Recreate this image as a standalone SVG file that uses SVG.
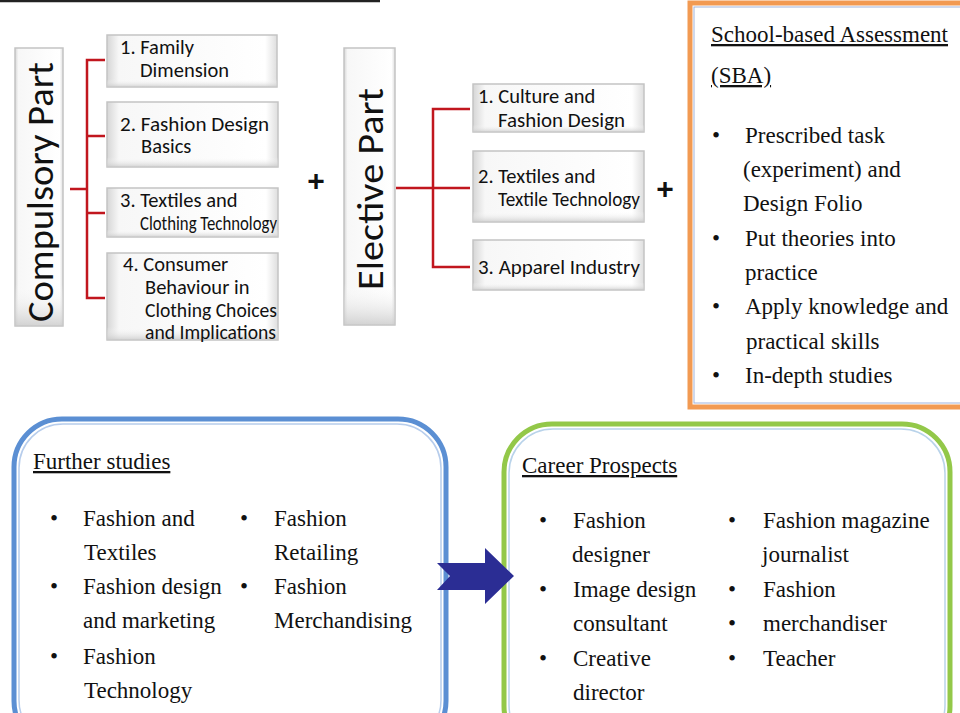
<svg xmlns="http://www.w3.org/2000/svg" width="960" height="713" viewBox="0 0 960 713">
<defs>
<linearGradient id="boxg" x1="0" y1="0" x2="1" y2="0">
<stop offset="0" stop-color="#d6d6d6"/>
<stop offset="0.07" stop-color="#f7f7f7"/>
<stop offset="0.93" stop-color="#ffffff"/>
<stop offset="1" stop-color="#dedede"/>
</linearGradient>
<linearGradient id="boxv" x1="0" y1="0" x2="0" y2="1">
<stop offset="0" stop-color="#ffffff" stop-opacity="0"/>
<stop offset="0.85" stop-color="#ffffff" stop-opacity="0"/>
<stop offset="1" stop-color="#c8c8c8" stop-opacity="0.8"/>
</linearGradient>
</defs>
<style>
.box{fill:url(#boxg);stroke:#c4c4c4;stroke-width:1.5}
.shade{fill:url(#boxv);stroke:none}
.cal{font-family:Carlito,"Liberation Sans",Arial,sans-serif;fill:#111}
.item{font-size:20.5px}
.big{font-size:36px}
.tnr{font-family:"Liberation Serif","Times New Roman",serif;fill:#111;font-size:23px}
.head{text-decoration:underline}
.red{stroke:#c1161e;stroke-width:2.5;fill:none}
.plus{font-family:"Liberation Sans",Arial,sans-serif;font-size:30px;font-weight:bold;fill:#111}
</style>
<rect width="960" height="713" fill="#ffffff"/>
<line x1="0" y1="1" x2="380" y2="1" stroke="#222" stroke-width="2.5"/>

<g id="compulsory-part">
<rect class="box" x="15" y="48" width="48" height="278"/>
<rect class="shade" x="15" y="48" width="48" height="278"/>
<text class="cal big" transform="translate(53,322) rotate(-90)" textLength="260" lengthAdjust="spacingAndGlyphs">Compulsory Part</text>
</g>
<g id="c1">
<rect class="box" x="107" y="35" width="170" height="52"/>
<rect class="shade" x="107" y="35" width="170" height="52"/>
<text class="cal item" x="120" y="54">1. Family</text>
<text class="cal item" x="140" y="77">Dimension</text>
</g>
<g id="c2">
<rect class="box" x="107" y="102" width="171" height="65"/>
<rect class="shade" x="107" y="102" width="171" height="65"/>
<text class="cal item" x="120" y="131" textLength="149" lengthAdjust="spacingAndGlyphs">2. Fashion Design</text>
<text class="cal item" x="141" y="153">Basics</text>
</g>
<g id="c3">
<rect class="box" x="107" y="188" width="171" height="49"/>
<rect class="shade" x="107" y="188" width="171" height="49"/>
<text class="cal item" x="120" y="207">3. Textiles and</text>
<text class="cal item" x="140" y="230" textLength="137" lengthAdjust="spacingAndGlyphs">Clothing Technology</text>
</g>
<g id="c4">
<rect class="box" x="107" y="253" width="171" height="87"/>
<rect class="shade" x="107" y="253" width="171" height="87"/>
<text class="cal item" x="123" y="271">4. Consumer</text>
<text class="cal item" x="145" y="294">Behaviour in</text>
<text class="cal item" x="145" y="317" textLength="132" lengthAdjust="spacingAndGlyphs">Clothing Choices</text>
<text class="cal item" x="145" y="339" textLength="131" lengthAdjust="spacingAndGlyphs">and Implications</text>
</g>

<g id="plus1"><text class="plus" x="316" y="191" text-anchor="middle">+</text></g>

<g id="elective-part">
<rect class="box" x="344" y="48" width="51" height="277"/>
<rect class="shade" x="344" y="48" width="51" height="277"/>
<text class="cal big" transform="translate(383,290) rotate(-90)" textLength="202" lengthAdjust="spacingAndGlyphs">Elective Part</text>
</g>
<g id="e1">
<rect class="box" x="473" y="84" width="171" height="48"/>
<rect class="shade" x="473" y="84" width="171" height="48"/>
<text class="cal item" x="478" y="103">1. Culture and</text>
<text class="cal item" x="498" y="127" textLength="127" lengthAdjust="spacingAndGlyphs">Fashion Design</text>
</g>
<g id="e2">
<rect class="box" x="473" y="151" width="171" height="71"/>
<rect class="shade" x="473" y="151" width="171" height="71"/>
<text class="cal item" x="478" y="183">2. Textiles and</text>
<text class="cal item" x="498" y="206" textLength="142" lengthAdjust="spacingAndGlyphs">Textile Technology</text>
</g>
<g id="e3">
<rect class="box" x="473" y="240" width="171" height="50"/>
<rect class="shade" x="473" y="240" width="171" height="50"/>
<text class="cal item" x="478" y="274" textLength="162" lengthAdjust="spacingAndGlyphs">3. Apparel Industry</text>
</g>

<g id="plus2"><text class="plus" x="665" y="199" text-anchor="middle">+</text></g>

<g id="connectors">
<path class="red" d="M70,189 H87 M105,60 H87 V298 H105 M87,136 H105 M87,213 H105"/>
<path class="red" d="M396,188 H470 M470,109 H433 V267 H470"/>
</g>

<g id="sba">
<rect x="690" y="3" width="280" height="404" fill="#fff" stroke="#f29a52" stroke-width="5"/>
<rect x="694" y="7" width="272" height="396" fill="none" stroke="#9fb3dc" stroke-width="1"/>
<text class="tnr head" x="711" y="42">School-based Assessment</text>
<text class="tnr head" x="711" y="83">(SBA)</text>
<g class="tnr">
<text x="712" y="143">•</text><text x="745" y="143">Prescribed task</text>
<text x="743" y="177">(experiment) and</text>
<text x="743" y="211">Design Folio</text>
<text x="712" y="246">•</text><text x="745" y="246">Put theories into</text>
<text x="745" y="280">practice</text>
<text x="712" y="314">•</text><text x="745" y="314">Apply knowledge and</text>
<text x="746" y="349">practical skills</text>
<text x="712" y="383">•</text><text x="745" y="383">In-depth studies</text>
</g>
</g>

<g id="further-studies">
<rect x="14" y="419" width="432" height="330" rx="48" ry="48" fill="#fff" stroke="#5b8fd3" stroke-width="5"/>
<rect x="19" y="424" width="422" height="320" rx="44" ry="44" fill="none" stroke="#b7cdec" stroke-width="1.5"/>
<text class="tnr head" x="33" y="469">Further studies</text>
<g class="tnr">
<text x="50" y="526">•</text><text x="83" y="526">Fashion and</text>
<text x="84" y="560">Textiles</text>
<text x="50" y="594">•</text><text x="83" y="594">Fashion design</text>
<text x="83" y="628">and marketing</text>
<text x="50" y="664">•</text><text x="83" y="664">Fashion</text>
<text x="84" y="698">Technology</text>
<text x="240" y="526">•</text><text x="274" y="526">Fashion</text>
<text x="274" y="560">Retailing</text>
<text x="240" y="594">•</text><text x="274" y="594">Fashion</text>
<text x="274" y="628">Merchandising</text>
</g>
</g>

<g id="career-prospects">
<rect x="504" y="424" width="446" height="330" rx="48" ry="48" fill="#fff" stroke="#93c849" stroke-width="5"/>
<rect x="509" y="429" width="436" height="320" rx="44" ry="44" fill="none" stroke="#b9d3ea" stroke-width="1.5"/>
<text class="tnr head" x="522" y="473">Career Prospects</text>
<g class="tnr">
<text x="539" y="528">•</text><text x="573" y="528">Fashion</text>
<text x="572" y="562">designer</text>
<text x="539" y="597">•</text><text x="573" y="597">Image design</text>
<text x="573" y="631">consultant</text>
<text x="539" y="666">•</text><text x="573" y="666">Creative</text>
<text x="573" y="700">director</text>
<text x="728" y="528">•</text><text x="763" y="528">Fashion magazine</text>
<text x="762" y="562">journalist</text>
<text x="728" y="597">•</text><text x="763" y="597">Fashion</text>
<text x="728" y="631">•</text><text x="763" y="631">merchandiser</text>
<text x="728" y="666">•</text><text x="763" y="666">Teacher</text>
</g>
</g>

<g id="arrow">
<polygon points="437,563 485,563 485,548 514,576 485,604 485,590 437,590 450,576" fill="#2b2d94"/>
</g>
</svg>
